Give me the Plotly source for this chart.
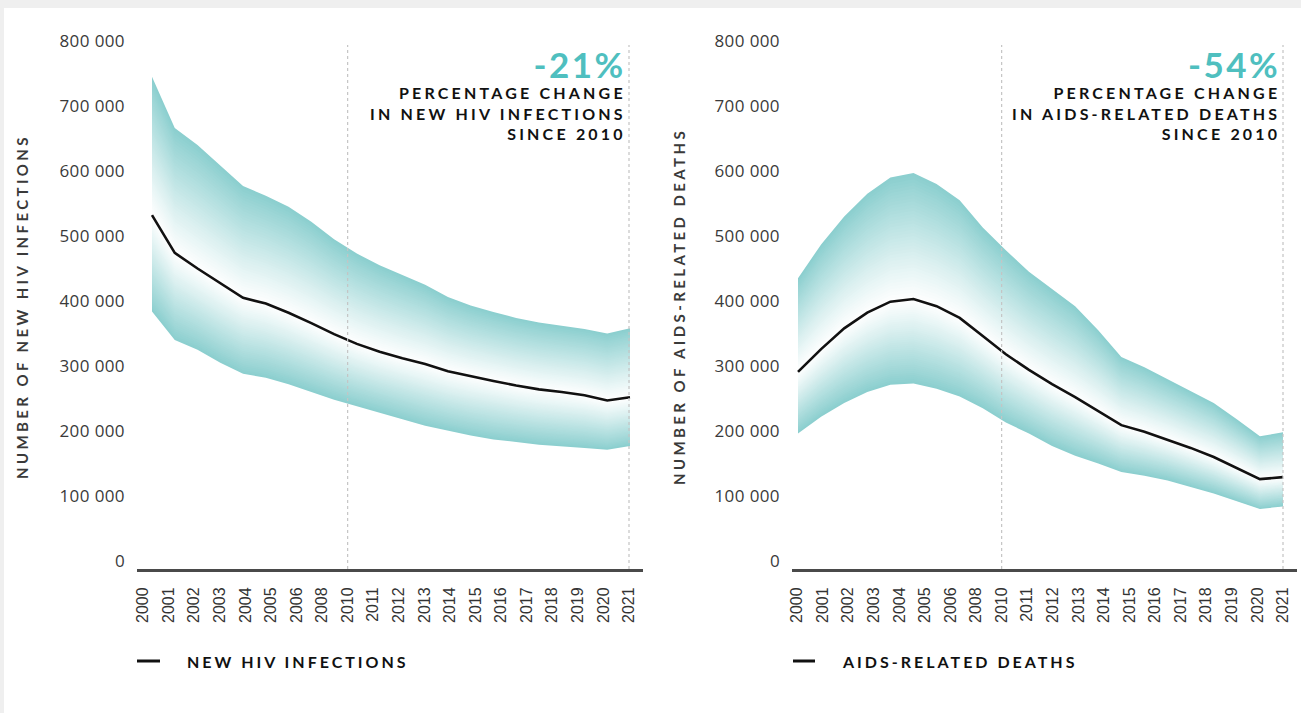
import plotly.graph_objects as go
import numpy as np

W, H = 1301, 713

# ---------------- data ----------------
YEARS = [2000, 2001, 2002, 2003, 2004, 2005, 2006, 2007, 2008, 2009, 2010,
         2011, 2012, 2013, 2014, 2015, 2016, 2017, 2018, 2019, 2020, 2021]

TICK_LABELS = ["2000", "2001", "2002", "2003", "2004", "2005", "2006", "2008",
               "2010", "2011", "2012", "2013", "2014", "2015", "2016", "2017",
               "2018", "2019", "2020", "2021"]

Y_TICKS = [0, 100000, 200000, 300000, 400000, 500000, 600000, 700000, 800000]
Y_TICK_TEXT = ["0", "100 000", "200 000", "300 000", "400 000", "500 000",
               "600 000", "700 000", "800 000"]

HIV_EST = [532000, 474000, 450000, 427000, 405000, 396000, 382000, 366000, 349000,
           334000, 322000, 312000, 303000, 292000, 284000, 277000, 270000, 264000,
           260000, 255000, 247000, 252000]
HIV_HIGH = [745000, 666000, 640000, 608000, 577000, 562000, 545000, 522000, 495000,
            473000, 455000, 440000, 425000, 406000, 393000, 383000, 374000, 367000,
            362000, 357000, 350000, 358000]
HIV_LOW = [384000, 340000, 325000, 305000, 288000, 282000, 272000, 260000, 248000,
           238000, 228000, 218000, 208000, 200000, 193000, 187000, 183000, 179000,
           176000, 174000, 171000, 177000]

DEATH_EST = [291000, 326000, 358000, 382000, 399000, 403000, 392000, 374000, 346000,
             318000, 294000, 272000, 252000, 231000, 209000, 199000, 187000, 174000,
             160000, 143000, 126000, 129000]
DEATH_HIGH = [435000, 487000, 530000, 565000, 590000, 597000, 580000, 555000, 513000,
              478000, 445000, 418000, 392000, 355000, 314000, 298000, 280000, 262000,
              243000, 218000, 192000, 198000]
DEATH_LOW = [196000, 222000, 243000, 260000, 271000, 273000, 265000, 253000, 235000,
             213000, 196000, 177000, 162000, 150000, 137000, 131000, 124000, 114000,
             104000, 92000, 80000, 84000]

SERIES_NAMES = ["NEW HIV INFECTIONS", "AIDS-RELATED DEATHS"]
PCT_CHANGE = ["-21%", "-54%"]
PCT_LINES = [["PERCENTAGE CHANGE", "IN NEW HIV INFECTIONS", "SINCE 2010"],
             ["PERCENTAGE CHANGE", "IN AIDS-RELATED DEATHS", "SINCE 2010"]]
Y_TITLES = ["NUMBER OF NEW HIV INFECTIONS", "NUMBER OF AIDS-RELATED DEATHS"]

# ---------------- styling ----------------
TEAL_EDGE = (140, 207, 207)
WHITE = (255, 255, 255)
ACCENT = "#4fbfbf"
N_LEVELS = 40
BOLD_FONT = "Lato"


def spaced(t, px):
    return '<span style="letter-spacing:%.1fpx">%s</span>' % (px, t)


fig = go.Figure()


def add_band(xa, ya, est, low, high):
    est = np.array(est, dtype=float)
    low = np.array(low, dtype=float)
    high = np.array(high, dtype=float)
    xs = list(YEARS) + list(YEARS)[::-1]
    for k in range(N_LEVELS, 0, -1):
        f = k / N_LEVELS
        g = f ** 1.1
        col = tuple(int(round(WHITE[i] * (1 - g) + TEAL_EDGE[i] * g)) for i in range(3))
        top = est + f * (high - est)
        bot = est - f * (est - low)
        ys = list(top) + list(bot)[::-1]
        fig.add_trace(go.Scatter(
            x=xs, y=ys, xaxis=xa, yaxis=ya, fill="toself",
            fillcolor="rgb(%d,%d,%d)" % col, mode="lines",
            line=dict(width=0, color="rgb(%d,%d,%d)" % col),
            showlegend=False, hoverinfo="skip"))


add_band("x", "y", HIV_EST, HIV_LOW, HIV_HIGH)
add_band("x2", "y2", DEATH_EST, DEATH_LOW, DEATH_HIGH)

fig.add_trace(go.Scatter(
    x=YEARS, y=HIV_EST, xaxis="x", yaxis="y", mode="lines",
    line=dict(color="#111111", width=2.6), name=SERIES_NAMES[0], showlegend=False))
fig.add_trace(go.Scatter(
    x=YEARS, y=DEATH_EST, xaxis="x2", yaxis="y2", mode="lines",
    line=dict(color="#111111", width=2.6), name=SERIES_NAMES[1], showlegend=False))

# axis geometry (pixel based)
L_X0, L_X1 = 137, 643
R_X0, R_X1 = 792, 1297
Y_TOP, Y_BOT = 41, 569
Y_MIN, Y_MAX = -12300, 800000

left_range = [1999.341, 2021.571]
right_range = [1999.74, 2021.606]
left_ticks = list(np.linspace(1999.605, 2020.956, len(TICK_LABELS)))
right_ticks = list(np.linspace(1999.957, 2021.0, len(TICK_LABELS)))

xcommon = dict(tickangle=-90, showline=True, linecolor="#4a4a4a", linewidth=3,
               ticks="", showgrid=False, zeroline=False, ticktext=TICK_LABELS,
               tickmode="array", ticklabelstandoff=9,
               tickfont=dict(family="Liberation Sans", size=16, color="#333333"),
               fixedrange=True)
ycommon = dict(range=[Y_MIN, Y_MAX], tickvals=Y_TICKS,
               ticktext=[spaced(t, 0.4) for t in Y_TICK_TEXT],
               tickmode="array", showgrid=False, zeroline=False, showline=False,
               ticks="", ticklabelstandoff=11,
               tickfont=dict(family="Open Sans", size=17, color="#3a3a3a"),
               domain=[1 - Y_BOT / H, 1 - Y_TOP / H], fixedrange=True)

fig.update_layout(
    width=W, height=H,
    margin=dict(l=0, r=0, t=0, b=0),
    template="none",
    paper_bgcolor="white",
    plot_bgcolor="white",
    showlegend=False,
    xaxis=dict(domain=[L_X0 / W, L_X1 / W], range=left_range, tickvals=left_ticks,
               anchor="y", **xcommon),
    yaxis=dict(anchor="x", **ycommon),
    xaxis2=dict(domain=[R_X0 / W, R_X1 / W], range=right_range, tickvals=right_ticks,
                anchor="y2", **xcommon),
    yaxis2=dict(anchor="x2", **ycommon),
)

shapes = [
    dict(type="rect", xref="paper", yref="paper", x0=0, x1=1, y0=1 - 8 / H, y1=1,
         fillcolor="#efefef", line=dict(width=0), layer="below"),
    dict(type="rect", xref="paper", yref="paper", x0=0, x1=4 / W, y0=0, y1=1,
         fillcolor="#efefef", line=dict(width=0), layer="below"),
]
for xa, ticks in (("x", left_ticks), ("x2", right_ticks)):
    ya = "y" if xa == "x" else "y2"
    for idx in (TICK_LABELS.index("2010"), TICK_LABELS.index("2021")):
        shapes.append(dict(type="line", xref=xa, yref=ya, x0=ticks[idx], x1=ticks[idx],
                           y0=Y_MIN, y1=794000,
                           line=dict(color="#c4c4c4", width=1.2, dash="dot"),
                           layer="above"))

# manual legend keys (short dash + label)
for x0, x1 in ((137, 160), (793, 815)):
    shapes.append(dict(type="line", xref="paper", yref="paper", x0=x0 / W, x1=x1 / W,
                       y0=1 - 661 / H, y1=1 - 661 / H,
                       line=dict(color="#111111", width=3)))
fig.update_layout(shapes=shapes)

annots = []
for xr, pct, lines in ((628, PCT_CHANGE[0], PCT_LINES[0]),
                       (1282, PCT_CHANGE[1], PCT_LINES[1])):
    body = ('<span style="font-size:35px;color:%s;letter-spacing:2.5px"><b>%s</b></span>'
            % (ACCENT, pct))
    body += "".join("<br>" + spaced("<b>%s</b>" % t, 3.2) for t in lines)
    annots.append(dict(xref="paper", yref="paper", x=xr / W, y=1 - 41 / H,
                       xanchor="right", yanchor="top", align="right", showarrow=False,
                       text=body,
                       font=dict(family=BOLD_FONT, size=16, color="#111111")))

for xl, t in ((185, SERIES_NAMES[0]), (840, SERIES_NAMES[1])):
    annots.append(dict(xref="paper", yref="paper", x=xl / W, y=1 - 661 / H,
                       xanchor="left", yanchor="middle", showarrow=False,
                       text=spaced("<b>%s</b>" % t, 3.0),
                       font=dict(family=BOLD_FONT, size=16, color="#111111")))

for xc, t in ((22, Y_TITLES[0]), (679, Y_TITLES[1])):
    annots.append(dict(xref="paper", yref="paper", x=xc / W, y=1 - 307 / H,
                       xanchor="center", yanchor="middle", showarrow=False, textangle=-90,
                       text=spaced("<b>%s</b>" % t, 3.4),
                       font=dict(family=BOLD_FONT, size=15, color="#3a3a3a")))
fig.update_layout(annotations=annots)

fig.write_html("out.html",
               config={"displayModeBar": False},
               post_script="document.body.style.margin='0';"
                           "document.body.style.overflow='hidden';")
